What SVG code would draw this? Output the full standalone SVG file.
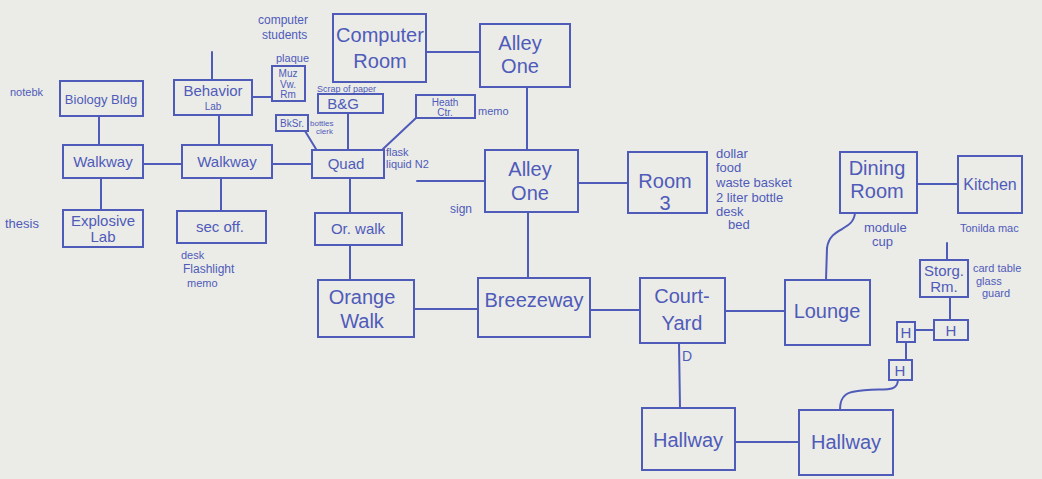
<svg xmlns="http://www.w3.org/2000/svg" width="1042" height="479" viewBox="0 0 1042 479">
<style>
.bg{fill:#ebebe8}
.n rect{fill:none;stroke:#4f5bb9;stroke-width:2}
.c path,.c line{fill:none;stroke:#4f5bb9;stroke-width:2;stroke-linecap:round}
text{font-family:"Liberation Sans","DejaVu Sans",sans-serif;fill:#4f5bb9;text-anchor:middle}
.t{font-size:15px}
.b{font-size:20px}
.s{font-size:10px}
.l{font-size:11px;text-anchor:start}
</style>
<rect class="bg" x="0" y="0" width="1042" height="479"/>
<g id="connectors" class="c">
<line x1="99" y1="116" x2="99" y2="145"/>
<line x1="101" y1="178" x2="101" y2="210"/>
<line x1="143" y1="164" x2="182" y2="164"/>
<line x1="219" y1="115" x2="219" y2="145"/>
<line x1="212" y1="52" x2="212" y2="80"/>
<line x1="252" y1="97" x2="272" y2="97"/>
<line x1="221" y1="178" x2="221" y2="211"/>
<line x1="272" y1="164" x2="312" y2="164"/>
<line x1="305" y1="131" x2="316" y2="149"/>
<line x1="348" y1="113" x2="348" y2="150"/>
<line x1="383" y1="149" x2="416" y2="118"/>
<line x1="350" y1="178" x2="350" y2="213"/>
<line x1="350" y1="245" x2="350" y2="280"/>
<line x1="426" y1="52" x2="480" y2="52"/>
<line x1="527" y1="87" x2="527" y2="150"/>
<line x1="417" y1="181" x2="485" y2="181"/>
<line x1="578" y1="183" x2="628" y2="183"/>
<line x1="528" y1="212" x2="528" y2="278"/>
<line x1="414" y1="309" x2="478" y2="309"/>
<line x1="590" y1="310" x2="640" y2="310"/>
<line x1="725" y1="311" x2="785" y2="311"/>
<line x1="679" y1="343" x2="680" y2="408"/>
<line x1="735" y1="442" x2="799" y2="442"/>
<line x1="917" y1="184" x2="958" y2="184"/>
<path d="M855,213 C853,232 830,226 827,248 L826,280"/>
<line x1="947" y1="243" x2="947" y2="260"/>
<line x1="950" y1="297" x2="950" y2="320"/>
<line x1="915" y1="330" x2="934" y2="330"/>
<line x1="906" y1="342" x2="906" y2="360"/>
<path d="M898,380 C897,395 880,386 852,392 C843,394 840,400 840,410"/>
</g>
<g id="biology" class="n"><rect x="60" y="81" width="83" height="35"/><text class="t" x="101" y="104" style="font-size:13px">Biology Bldg</text></g>
<g id="behavior" class="n"><rect x="174" y="80" width="78" height="35"/><text class="t" x="213" y="96">Behavior</text><text class="s" x="213" y="110">Lab</text></g>
<g id="muzvw" class="n"><rect x="272" y="66" width="33" height="35"/><text class="s" x="288" y="77">Muz</text><text class="s" x="288" y="88">Vw.</text><text class="s" x="288" y="98">Rm</text></g>
<g id="computer" class="n"><rect x="333" y="14" width="93" height="68"/><text class="b" x="380" y="42">Computer</text><text class="b" x="380" y="68">Room</text></g>
<g id="alley1top" class="n"><rect x="480" y="24" width="90" height="63"/><text class="b" x="520" y="50">Alley</text><text class="b" x="520" y="73">One</text></g>
<g id="bg" class="n"><rect x="318" y="94" width="65" height="19"/><text class="t" x="343" y="109">B&amp;G</text></g>
<g id="bksr" class="n"><rect x="276" y="115" width="32" height="16"/><text class="s" x="292" y="127">BkSr.</text></g>
<g id="heath" class="n"><rect x="416" y="95" width="59" height="23"/><text class="s" x="445" y="106">Heath</text><text class="s" x="445" y="116">Ctr.</text></g>
<g id="quad" class="n"><rect x="312" y="150" width="72" height="28"/><text class="t" x="346" y="169">Quad</text></g>
<g id="walkway1" class="n"><rect x="63" y="145" width="80" height="33"/><text class="t" x="103" y="167">Walkway</text></g>
<g id="walkway2" class="n"><rect x="182" y="145" width="90" height="33"/><text class="t" x="227" y="167">Walkway</text></g>
<g id="explosive" class="n"><rect x="63" y="210" width="80" height="37"/><text class="t" x="103" y="226">Explosive</text><text class="t" x="103" y="242">Lab</text></g>
<g id="secoff" class="n"><rect x="177" y="211" width="89" height="32"/><text class="t" x="220" y="232">sec off.</text></g>
<g id="orwalk" class="n"><rect x="315" y="213" width="87" height="32"/><text class="t" x="358" y="234">Or. walk</text></g>
<g id="alley1" class="n"><rect x="485" y="150" width="93" height="62"/><text class="b" x="530" y="176">Alley</text><text class="b" x="530" y="200">One</text></g>
<g id="room3" class="n"><rect x="628" y="152" width="79" height="61"/><text class="b" x="665" y="188">Room</text><text class="b" x="665" y="210">3</text></g>
<g id="dining" class="n"><rect x="840" y="152" width="77" height="61"/><text class="b" x="877" y="175">Dining</text><text class="b" x="877" y="198">Room</text></g>
<g id="kitchen" class="n"><rect x="958" y="156" width="64" height="57"/><text class="b" x="990" y="190" style="font-size:16px">Kitchen</text></g>
<g id="storg" class="n"><rect x="920" y="260" width="48" height="37"/><text class="t" x="944" y="276">Storg.</text><text class="t" x="944" y="292">Rm.</text></g>
<g id="h1" class="n"><rect x="897" y="322" width="18" height="20"/><text class="t" x="906" y="338">H</text></g>
<g id="h2" class="n"><rect x="934" y="320" width="34" height="20"/><text class="t" x="951" y="336">H</text></g>
<g id="h3" class="n"><rect x="889" y="360" width="23" height="20"/><text class="t" x="900" y="376">H</text></g>
<g id="orangewalk" class="n"><rect x="318" y="280" width="96" height="57"/><text class="b" x="362" y="304">Orange</text><text class="b" x="362" y="328">Walk</text></g>
<g id="breezeway" class="n"><rect x="478" y="278" width="112" height="59"/><text class="b" x="534" y="307">Breezeway</text></g>
<g id="courtyard" class="n"><rect x="640" y="278" width="85" height="65"/><text class="b" x="682" y="303">Court-</text><text class="b" x="682" y="330">Yard</text></g>
<g id="lounge" class="n"><rect x="785" y="280" width="85" height="65"/><text class="b" x="827" y="318">Lounge</text></g>
<g id="hallway1" class="n"><rect x="642" y="408" width="93" height="62"/><text class="b" x="688" y="447">Hallway</text></g>
<g id="hallway2" class="n"><rect x="799" y="410" width="94" height="65"/><text class="b" x="846" y="449">Hallway</text></g>
<g id="labels">
<text class="l" x="10" y="96">notebk</text>
<text class="l" x="258" y="24" style="font-size:12px">computer</text>
<text class="l" x="262" y="39" style="font-size:12px">students</text>
<text class="l" x="276" y="62">plaque</text>
<text class="l" x="317" y="92" style="font-size:9px">Scrap of paper</text>
<text class="l" x="310" y="126" style="font-size:8px">bottles</text>
<text class="l" x="316" y="134" style="font-size:8px">clerk</text>
<text class="l" x="478" y="115">memo</text>
<text class="l" x="386" y="156">flask</text>
<text class="l" x="386" y="168">liquid N2</text>
<text class="l" x="5" y="228" style="font-size:13px">thesis</text>
<text class="l" x="181" y="259">desk</text>
<text class="l" x="183" y="273" style="font-size:12px">Flashlight</text>
<text class="l" x="187" y="287">memo</text>
<text class="l" x="450" y="213" style="font-size:12px">sign</text>
<text class="l" x="716" y="158" style="font-size:13px">dollar</text>
<text class="l" x="716" y="172" style="font-size:13px">food</text>
<text class="l" x="716" y="187" style="font-size:13px">waste  basket</text>
<text class="l" x="716" y="202" style="font-size:13px">2 liter  bottle</text>
<text class="l" x="716" y="216" style="font-size:13px">desk</text>
<text class="l" x="728" y="229" style="font-size:13px">bed</text>
<text class="l" x="864" y="232" style="font-size:13px">module</text>
<text class="l" x="872" y="246" style="font-size:13px">cup</text>
<text class="l" x="960" y="232">Tonilda mac</text>
<text class="l" x="973" y="272">card table</text>
<text class="l" x="976" y="285">glass</text>
<text class="l" x="982" y="297">guard</text>
<text class="l" x="682" y="361" style="font-size:14px">D</text>
</g>
</svg>
